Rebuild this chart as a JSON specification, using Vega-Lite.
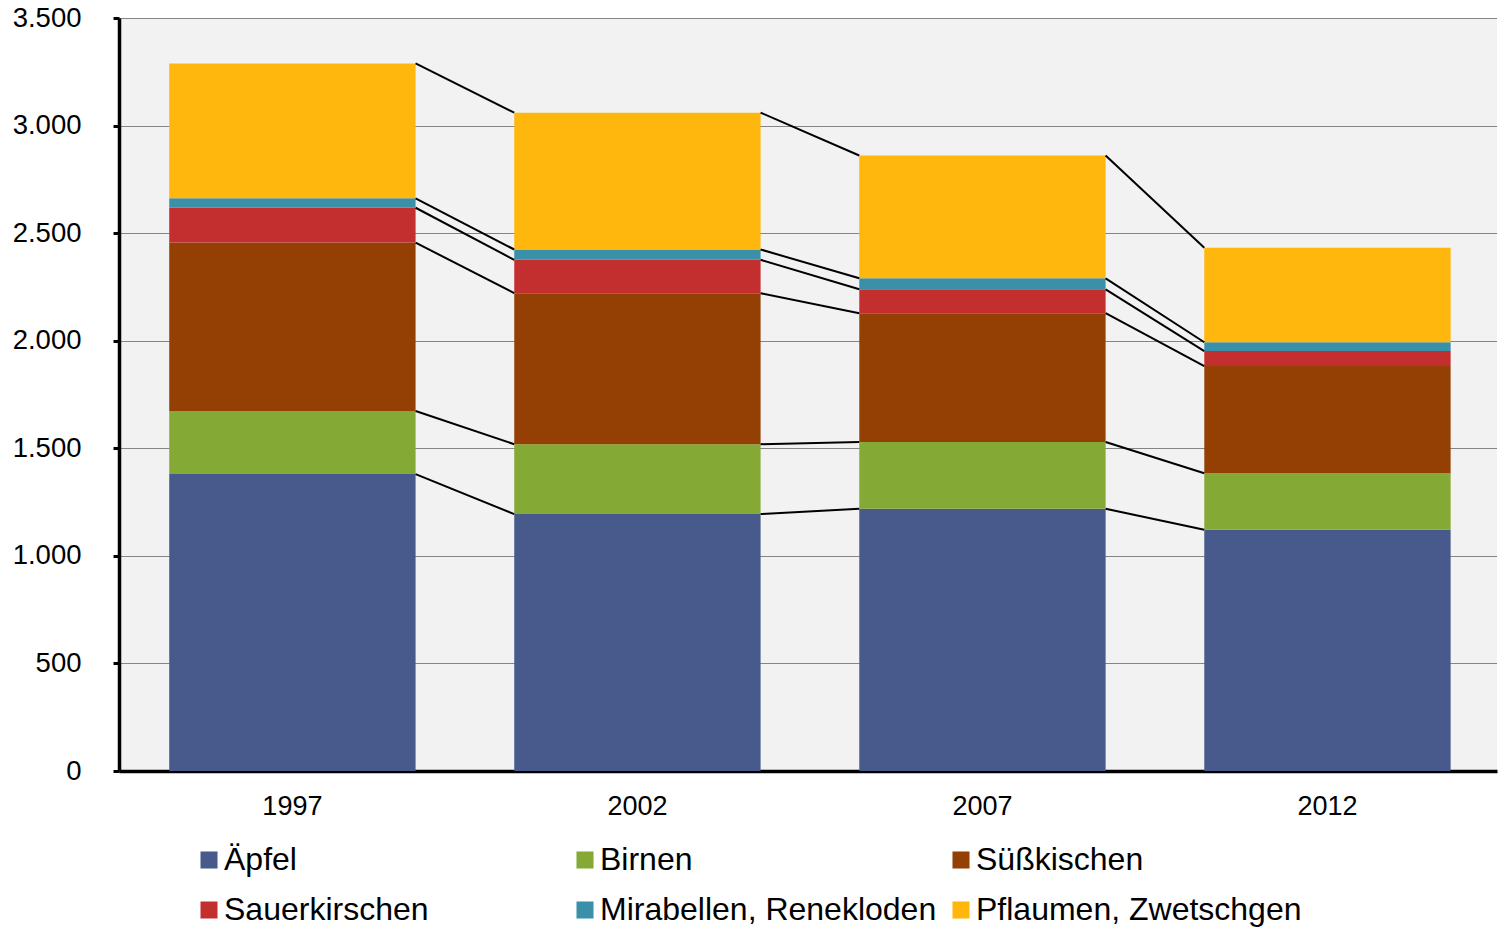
{
  "$schema": "https://vega.github.io/schema/vega-lite/v6.json",
  "width": 1378,
  "height": 753,
  "autosize": {"type": "none"},
  "padding": {"left": 119, "top": 18, "right": 2, "bottom": 158},
  "background": "white",
  "config": {
    "view": {"fill": "#f2f2f2", "stroke": null},
    "font": "Liberation Sans"
  },
  "data": {
    "values": [
      {"year": "1997", "fruit": "Äpfel", "k": 1, "value": 1380},
      {"year": "1997", "fruit": "Birnen", "k": 2, "value": 293},
      {"year": "1997", "fruit": "Süßkischen", "k": 3, "value": 783},
      {"year": "1997", "fruit": "Sauerkirschen", "k": 4, "value": 162},
      {"year": "1997", "fruit": "Mirabellen, Renekloden", "k": 5, "value": 44},
      {"year": "1997", "fruit": "Pflaumen, Zwetschgen", "k": 6, "value": 627},
      {"year": "2002", "fruit": "Äpfel", "k": 1, "value": 1194},
      {"year": "2002", "fruit": "Birnen", "k": 2, "value": 325},
      {"year": "2002", "fruit": "Süßkischen", "k": 3, "value": 702},
      {"year": "2002", "fruit": "Sauerkirschen", "k": 4, "value": 155},
      {"year": "2002", "fruit": "Mirabellen, Renekloden", "k": 5, "value": 48},
      {"year": "2002", "fruit": "Pflaumen, Zwetschgen", "k": 6, "value": 636},
      {"year": "2007", "fruit": "Äpfel", "k": 1, "value": 1219},
      {"year": "2007", "fruit": "Birnen", "k": 2, "value": 310},
      {"year": "2007", "fruit": "Süßkischen", "k": 3, "value": 599},
      {"year": "2007", "fruit": "Sauerkirschen", "k": 4, "value": 111},
      {"year": "2007", "fruit": "Mirabellen, Renekloden", "k": 5, "value": 51},
      {"year": "2007", "fruit": "Pflaumen, Zwetschgen", "k": 6, "value": 571},
      {"year": "2012", "fruit": "Äpfel", "k": 1, "value": 1121},
      {"year": "2012", "fruit": "Birnen", "k": 2, "value": 263},
      {"year": "2012", "fruit": "Süßkischen", "k": 3, "value": 498},
      {"year": "2012", "fruit": "Sauerkirschen", "k": 4, "value": 70},
      {"year": "2012", "fruit": "Mirabellen, Renekloden", "k": 5, "value": 41},
      {"year": "2012", "fruit": "Pflaumen, Zwetschgen", "k": 6, "value": 439}
    ]
  },
  "transform": [
    {"stack": "value", "groupby": ["year"], "sort": [{"field": "k", "order": "ascending"}], "as": ["v0", "v1"]}
  ],
  "layer": [
    {
      "mark": {"type": "bar"},
      "encoding": {
        "x": {
          "field": "year", "type": "ordinal",
          "scale": {"paddingInner": 0.286, "paddingOuter": 0.14, "align": 0.52},
          "axis": {
            "title": null, "labelAngle": 0, "ticks": false,
            "domainColor": "black", "domainWidth": 3.5,
            "labelFontSize": 27, "labelColor": "black", "labelPadding": 22,
            "labelFont": "Liberation Sans", "grid": false
          }
        },
        "y": {
          "field": "v1", "type": "quantitative",
          "scale": {"domain": [0, 3500], "nice": false},
          "axis": {
            "title": null,
            "values": [0, 500, 1000, 1500, 2000, 2500, 3000, 3500],
            "labelExpr": "replace(format(datum.value, ','), ',', '.')",
            "labelFontSize": 27.5, "labelColor": "black", "labelPadding": 32,
            "labelFont": "Liberation Sans",
            "domainColor": "black", "domainWidth": 3.5,
            "tickColor": "black", "tickWidth": 3, "tickSize": 6,
            "grid": true, "gridColor": "#000000", "gridDash": [1, 1], "gridWidth": 1, "gridOpacity": 0.9
          }
        },
        "y2": {"field": "v0"},
        "color": {
          "field": "fruit", "type": "nominal",
          "scale": {
            "domain": ["Äpfel", "Birnen", "Süßkischen", "Sauerkirschen", "Mirabellen, Renekloden", "Pflaumen, Zwetschgen"],
            "range": ["#475A8B", "#84A935", "#944004", "#C32F2F", "#3A90A8", "#FFB70E"]
          },
          "legend": {
            "title": null, "orient": "none", "legendX": 74, "legendY": 826,
            "direction": "horizontal",
            "columns": 3, "gridAlign": "all", "columnPadding": 8, "rowPadding": 18,
            "symbolType": "square", "symbolSize": 290, "symbolStrokeWidth": 0,
            "labelFontSize": 32, "labelColor": "black", "labelOffset": -1, "labelLimit": 0,
            "labelFont": "Liberation Sans", "padding": 0
          }
        }
      }
    },
    {
      "transform": [
        {"window": [{"op": "lead", "field": "v1", "as": "nv"}, {"op": "lead", "field": "year", "as": "ny"}], "groupby": ["fruit"], "sort": [{"field": "year", "order": "ascending"}]},
        {"filter": "datum.ny != null"}
      ],
      "mark": {"type": "rule", "color": "black", "strokeWidth": 2},
      "encoding": {
        "x": {"field": "year", "type": "ordinal", "bandPosition": 1},
        "x2": {"field": "ny", "bandPosition": 0},
        "y": {"field": "v1", "type": "quantitative"},
        "y2": {"field": "nv"}
      }
    }
  ]
}
